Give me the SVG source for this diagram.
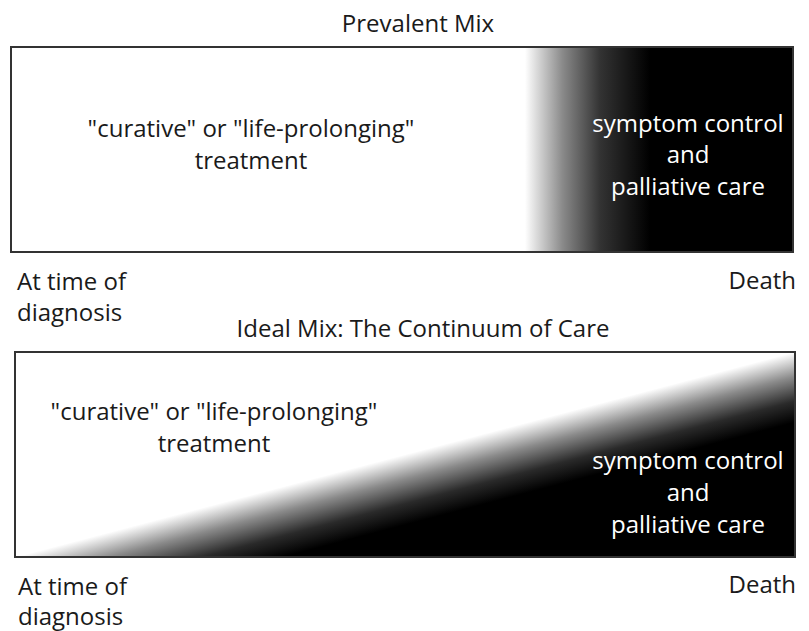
<svg xmlns="http://www.w3.org/2000/svg" width="809" height="631" viewBox="0 0 809 631">
  <defs>
    <linearGradient id="gradTop" gradientUnits="userSpaceOnUse" x1="525" y1="0" x2="650" y2="0">
      <stop offset="0" stop-color="#ffffff"/>
      <stop offset="0.15" stop-color="#c4c4c4"/>
      <stop offset="0.3" stop-color="#8a8a8a"/>
      <stop offset="0.6" stop-color="#333333"/>
      <stop offset="1" stop-color="#000000"/>
    </linearGradient>
    <linearGradient id="gradBottom" gradientUnits="userSpaceOnUse" x1="405" y1="454.5" x2="422.3" y2="520.3">
      <stop offset="0" stop-color="#ffffff"/>
      <stop offset="0.35" stop-color="#8a8a8a"/>
      <stop offset="0.7" stop-color="#2a2a2a"/>
      <stop offset="1" stop-color="#000000"/>
    </linearGradient>
  </defs>
  <style>
    .box { fill: none; stroke: #333333; stroke-width: 2; }
    .t { font-family: "Open Sans", "Liberation Sans", sans-serif; font-size: 24px; fill: #1a1a1a; }
    .c { text-anchor: middle; }
    .w { fill: #ffffff; }
    .e { text-anchor: end; }
  </style>
  <rect width="809" height="631" fill="#ffffff"/>

  <g id="prevalent-mix">
    <text class="t c" x="418" y="32">Prevalent Mix</text>
    <g id="top-box">
      <rect x="11" y="47" width="782" height="205" fill="#ffffff"/>
      <rect x="525" y="47" width="268" height="205" fill="url(#gradTop)"/>
      <rect class="box" x="11" y="47" width="782" height="205"/>
    </g>
    <g id="top-curative">
      <text class="t c" x="251" y="137">"curative" or "life-prolonging"</text>
      <text class="t c" x="251" y="169">treatment</text>
    </g>
    <g id="top-palliative">
      <text class="t c w" x="688" y="132">symptom control</text>
      <text class="t c w" x="688" y="163">and</text>
      <text class="t c w" x="688" y="195">palliative care</text>
    </g>
    <g id="top-start">
      <text class="t" x="17" y="290">At time of</text>
      <text class="t" x="17" y="321">diagnosis</text>
    </g>
    <g id="top-end">
      <text class="t e" x="796" y="289">Death</text>
    </g>
  </g>

  <g id="ideal-mix">
    <text class="t c" x="423" y="337">Ideal Mix: The Continuum of Care</text>
    <g id="bottom-box">
      <rect x="15" y="352" width="780" height="205" fill="#ffffff"/>
      <polygon points="15,557 795,352 795,557" fill="url(#gradBottom)"/>
      <rect class="box" x="15" y="352" width="780" height="205"/>
    </g>
    <g id="bottom-curative">
      <text class="t c" x="214" y="420">"curative" or "life-prolonging"</text>
      <text class="t c" x="214" y="452">treatment</text>
    </g>
    <g id="bottom-palliative">
      <text class="t c w" x="688" y="469">symptom control</text>
      <text class="t c w" x="688" y="501">and</text>
      <text class="t c w" x="688" y="533">palliative care</text>
    </g>
    <g id="bottom-start">
      <text class="t" x="18" y="595">At time of</text>
      <text class="t" x="18" y="625">diagnosis</text>
    </g>
    <g id="bottom-end">
      <text class="t e" x="796" y="593">Death</text>
    </g>
  </g>

  <g id="connectors"/>
</svg>
